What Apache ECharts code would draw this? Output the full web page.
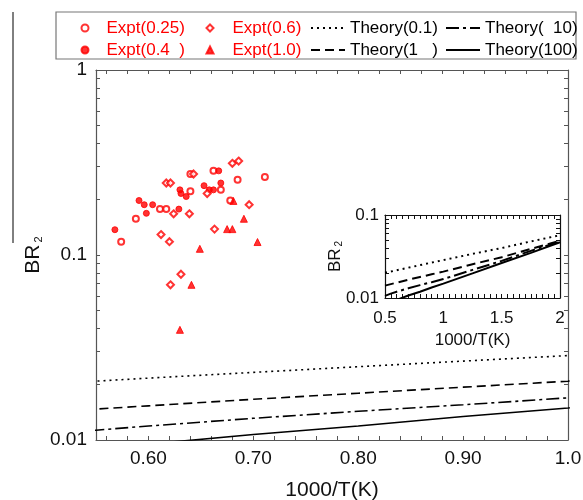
<!DOCTYPE html>
<html><head><meta charset="utf-8">
<script src="https://cdn.jsdelivr.net/npm/echarts@6/dist/echarts.min.js"></script>
<style>html,body{margin:0;padding:0;background:#fff}#c{width:583px;height:500px}</style>
</head><body><div id="c"></div>
<script>
// ---- data ----
const exptNames = ['Expt(0.25)', 'Expt(0.4  )', 'Expt(0.6)', 'Expt(1.0)'];
const theoryNames = ['Theory(0.1)', 'Theory(1   )', 'Theory(  10)', 'Theory(100)'];

const expt025 = [[0.574,0.118],[0.588,0.157],[0.611,0.177],[0.617,0.177],[0.640,0.221],[0.640,0.274],[0.662,0.285],[0.669,0.225],[0.685,0.255],[0.711,0.264],[0.678,0.197]];
const expt04 = [[0.568,0.137],[0.591,0.197],[0.596,0.187],[0.604,0.187],[0.598,0.168],[0.629,0.177],[0.630,0.225],[0.631,0.215],[0.636,0.207],[0.653,0.237],[0.658,0.225],[0.662,0.225],[0.669,0.245],[0.667,0.285]];
const expt06 = [[0.617,0.245],[0.621,0.245],[0.643,0.274],[0.680,0.313],[0.686,0.322],[0.656,0.215],[0.624,0.167],[0.639,0.167],[0.696,0.187],[0.663,0.138],[0.612,0.129],[0.620,0.118],[0.631,0.0787],[0.621,0.069]];
const expt10 = [[0.681,0.196],[0.691,0.157],[0.675,0.138],[0.680,0.138],[0.704,0.1175],[0.649,0.108],[0.641,0.069],[0.630,0.0394]];

const theoryX = [0.5, 0.55, 0.6, 0.7, 0.8, 0.9, 1.0, 1.25, 1.5, 1.75, 2.0];
const theory01 = [0.0202, 0.0208, 0.0216, 0.0232, 0.0249, 0.0267, 0.0286, 0.034, 0.040, 0.048, 0.057];
const theory1 = [0.0141, 0.0147, 0.0153, 0.0166, 0.0179, 0.0193, 0.0208, 0.0255, 0.031, 0.039, 0.049];
const theory10 = [0.0106, 0.0113, 0.0119, 0.0131, 0.0143, 0.0155, 0.0169, 0.0218, 0.028, 0.037, 0.048];
const theory100 = [0.0085, 0.0090, 0.0095, 0.0107, 0.0119, 0.0134, 0.0149, 0.0198, 0.0264, 0.035, 0.047];

const mainXLabelValues = [0.6, 0.7, 0.8, 0.9, 1.0];
const mainXLabelTexts = ['0.60', '0.70', '0.80', '0.90', '1.0'];
const mainXTicks = [0.56,0.58,0.60,0.62,0.64,0.66,0.68,0.70,0.72,0.74,0.76,0.78,0.80,0.82,0.84,0.86,0.88,0.90,0.92,0.94,0.96,0.98,1.0];
const mainYTicks = [0.01,0.02,0.03,0.04,0.05,0.06,0.07,0.08,0.09,0.1,0.2,0.3,0.4,0.5,0.6,0.7,0.8,0.9,1];
const insetXLabelValues = [0.5, 1, 1.5, 2];
const insetXLabelTexts = ['0.5', '1', '1.5', '2'];
const insetXTicks = [0.5,0.55,0.6,0.65,0.7,0.75,0.8,0.85,0.9,0.95,1,1.05,1.1,1.15,1.2,1.25,1.3,1.35,1.4,1.45,1.5,1.55,1.6,1.65,1.7,1.75,1.8,1.85,1.9,1.95,2];
const insetYTicks = [0.01,0.02,0.03,0.04,0.05,0.06,0.07,0.08,0.09,0.1];

// ---- chart ----
const FONT = '"Liberation Sans", Arial, Helvetica, sans-serif';
const RED = '#ff0000';
const chart = echarts.init(document.getElementById('c'), null, {renderer: 'canvas'});

function labelFrom(values, texts) {
  return function (v) {
    for (let i = 0; i < values.length; i++) if (Math.abs(values[i] - v) < 1e-6) return texts[i];
    return '';
  };
}
const frameMain = {lineStyle: {color: '#555', width: 1.2}};
const frameInset = {lineStyle: {color: '#111', width: 1.2}};

function xAx(grid, min, max, pos, ticks, lab, frame, extra) {
  return Object.assign({
    type: 'value', gridIndex: grid, min: min, max: max, position: pos,
    axisLine: Object.assign({show: true, onZero: false}, frame),
    axisTick: {show: true, inside: true, length: 4, customValues: ticks, lineStyle: {color: frame.lineStyle.color}},
    axisLabel: lab, splitLine: {show: false}
  }, extra || {});
}
function yAx(grid, min, max, pos, ticks, lab, frame, extra) {
  return Object.assign({
    type: 'log', logBase: 10, gridIndex: grid, min: min, max: max, position: pos,
    axisLine: Object.assign({show: true, onZero: false}, frame),
    axisTick: {show: true, inside: true, length: 4, customValues: ticks, lineStyle: {color: frame.lineStyle.color}},
    axisLabel: lab, splitLine: {show: false}, minorTick: {show: false}
  }, extra || {});
}

const series = [];
const exptData = [expt025, expt04, expt06, expt10];
const exptSym = ['emptyCircle', 'circle', 'emptyDiamond', 'triangle'];
const exptSize = [6, 6, 7, 7];
exptData.forEach((d, i) => series.push({
  type: 'scatter', name: exptNames[i], xAxisIndex: 0, yAxisIndex: 0, data: d,
  symbol: exptSym[i], symbolSize: exptSize[i], symbolKeepAspect: true,
  itemStyle: {color: RED, borderColor: RED, borderWidth: 1}, z: 5
}));
const theoryData = [theory01, theory1, theory10, theory100];
const dashTypes = [[2, 4], [9, 5], [13, 4, 3, 4], 'solid'];
theoryData.forEach((d, i) => {
  const pts = theoryX.map((x, j) => [x, d[j]]);
  series.push({
    type: 'line', name: theoryNames[i], xAxisIndex: 0, yAxisIndex: 0, data: pts,
    showSymbol: false, symbol: 'none', clip: true,
    lineStyle: {color: '#000', width: 1.6, type: dashTypes[i]}, itemStyle: {color: '#000'}
  });
  series.push({
    type: 'line', name: theoryNames[i], xAxisIndex: 2, yAxisIndex: 2, data: pts,
    showSymbol: false, symbol: 'none', clip: true,
    lineStyle: {color: '#000', width: 2, type: dashTypes[i]}, itemStyle: {color: '#000'}
  });
});

function legend(left, names, color, iw, ih, pad, hideSym) {
  const l = {
    orient: 'vertical', left: left, top: 12, itemWidth: iw, itemHeight: ih, itemGap: 0,
    selectedMode: false, data: names, symbolKeepAspect: true,
    textStyle: {color: color, fontSize: 17, fontFamily: FONT, lineHeight: 22, padding: [0, 0, 0, pad]}
  };
  if (hideSym) {
    l.itemStyle = {opacity: 0};
    l.lineStyle = {opacity: 1};
  }
  return l;
}

const option = {
  animation: false,
  backgroundColor: '#fff',
  textStyle: {fontFamily: FONT},
  grid: [
    {left: 96, top: 70, width: 472, height: 370, containLabel: false, outerBoundsMode: 'none'},
    {left: 385, top: 215, width: 175, height: 83, containLabel: false, outerBoundsMode: 'none'}
  ],
  legend: [
    legend(75.5, [exptNames[0], exptNames[1]], RED, 7, 7, 13, false),
    legend(200.5, [exptNames[2], exptNames[3]], RED, 7, 7, 14, false),
    legend(305, [theoryNames[0], theoryNames[1]], '#000', 34, 10, 0, true),
    legend(440, [theoryNames[2], theoryNames[3]], '#000', 34, 10, 0, true)
  ],
  xAxis: [
    xAx(0, 0.55, 1.0, 'bottom', mainXTicks,
      {show: true, customValues: mainXLabelValues, formatter: labelFrom(mainXLabelValues, mainXLabelTexts), fontSize: 19, color: '#111', margin: 9},
      frameMain,
      {name: '1000/T(K)', nameLocation: 'middle', nameGap: 40, nameTextStyle: {fontSize: 21, color: '#111'}}),
    xAx(0, 0.55, 1.0, 'top', mainXTicks, {show: false}, frameMain),
    xAx(1, 0.5, 2, 'bottom', insetXTicks,
      {show: true, customValues: insetXLabelValues, formatter: labelFrom(insetXLabelValues, insetXLabelTexts), fontSize: 17, color: '#111', margin: 12},
      frameInset,
      {name: '1000/T(K)', nameLocation: 'middle', nameGap: 34, nameTextStyle: {fontSize: 17, color: '#111'}}),
    xAx(1, 0.5, 2, 'top', insetXTicks, {show: false}, frameInset)
  ],
  yAxis: [
    yAx(0, 0.01, 1, 'left', mainYTicks, {show: true, fontSize: 19, color: '#111', margin: 9}, frameMain,
      {name: '{a|BR}{b|2}', nameLocation: 'middle', nameGap: 52, nameRotate: 90, nameMoveOverlap: false,
       nameTextStyle: {rich: {a: {fontSize: 21, color: '#111', fontFamily: FONT, lineHeight: 21, padding: [0, 0, 7, 0], verticalAlign: 'top'},
                               b: {fontSize: 11, color: '#111', fontFamily: FONT, verticalAlign: 'bottom', padding: [0, 0, 0, 2]}}}}),
    yAx(0, 0.01, 1, 'right', mainYTicks, {show: false}, frameMain),
    yAx(1, 0.01, 0.1, 'left', insetYTicks, {show: true, fontSize: 17, color: '#111', margin: 6}, frameInset,
      {name: '{a|BR}{b|2}', nameLocation: 'middle', nameGap: 41, nameRotate: 90, nameMoveOverlap: false,
       nameTextStyle: {rich: {a: {fontSize: 17, color: '#111', fontFamily: FONT, lineHeight: 17, padding: [0, 0, 5, 0], verticalAlign: 'top'},
                               b: {fontSize: 10, color: '#111', fontFamily: FONT, verticalAlign: 'bottom', padding: [0, 0, 0, 2]}}}}),
    yAx(1, 0.01, 0.1, 'right', insetYTicks, {show: false}, frameInset)
  ],
  graphic: [
    {type: 'rect', shape: {x: 56, y: 12, width: 520, height: 47}, style: {fill: 'none', stroke: '#777', lineWidth: 1.2}, z: 0},
    {type: 'line', shape: {x1: 13, y1: 12, x2: 13, y2: 243}, style: {stroke: '#000', lineWidth: 1}}
  ],
  series: series
};
chart.setOption(option);
</script>
</body></html>
